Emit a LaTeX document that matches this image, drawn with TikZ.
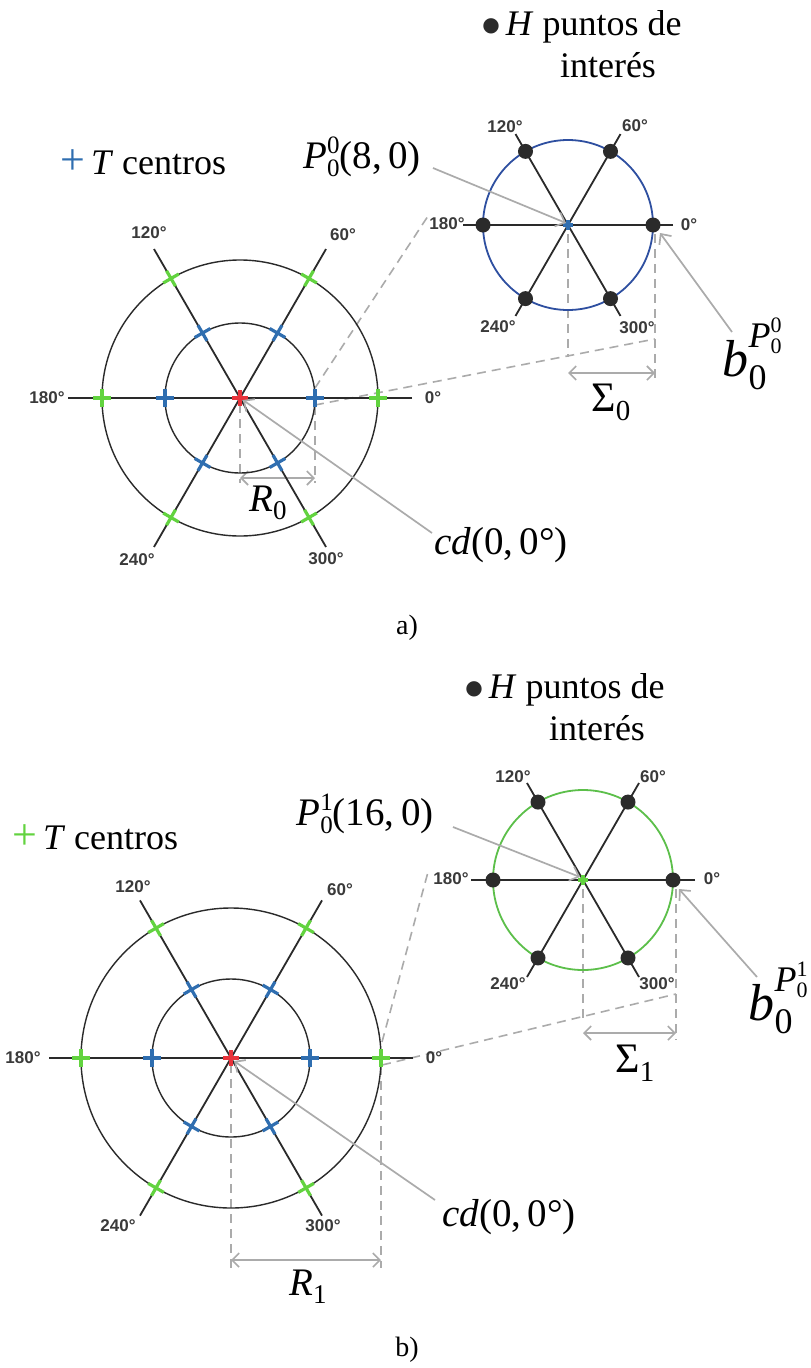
\documentclass[tikz,border=0pt]{standalone}
\usepackage{fontspec}
\setmainfont{Liberation Serif}
\newfontfamily\degfont{Liberation Sans}
\newfontfamily\symfont{DejaVu Sans}
\usetikzlibrary{arrows.meta}
\definecolor{cblue}{HTML}{2F6EB0}
\definecolor{cgreen}{HTML}{62D33F}
\definecolor{cred}{HTML}{E8333A}
\definecolor{cgray}{HTML}{ABABAB}
\definecolor{cline}{HTML}{2A2A2A}
\definecolor{circblue}{HTML}{2E4FA0}
\definecolor{circgreen}{HTML}{5CBF4A}
\definecolor{lblgray}{HTML}{3A3A3A}
\definecolor{dotc}{HTML}{2B2B2B}
\tikzset{
  spoke/.style={draw=cline, line width=1.8pt},
  ring/.style={draw=cline, line width=1.4pt},
  dashln/.style={draw=cgray, line width=1.6pt, dash pattern=on 9pt off 6pt},
  ptr/.style={draw=cgray, line width=1.7pt, -{Straight Barb[length=8pt,width=15pt]}},
  dimarr/.style={draw=cgray, line width=1.6pt, {Straight Barb[length=7pt,width=14pt]}-{Straight Barb[length=7pt,width=14pt]}},
  deg/.style={font=\degfont\bfseries\fontsize{17}{17}\selectfont, text=lblgray, inner sep=0pt},
  lg/.style={font=\fontsize{36}{40}\selectfont, inner sep=0pt},
  mth/.style={font=\fontsize{39}{43}\selectfont, inner sep=0pt},
  bigm/.style={font=\fontsize{52}{56}\selectfont, inner sep=0pt},
  panel/.style={font=\fontsize{28}{30}\selectfont, inner sep=0pt},
  dotm/.style={fill=dotc},
}
\newcommand\cruz[4]{\draw[#3, line width=3.2pt, shift={(#1)}, rotate=#2] (-#4,0) -- (#4,0) (0,-#4) -- (0,#4);}
% stacked sup/sub: size, distance between baselines, sup, sub
\newcommand\Stk[4]{{\fontsize{#1}{#2}\selectfont\begin{tabular}[b]{@{}l@{}}#3\\#4\end{tabular}}}
\newcommand\Sub[3]{\raisebox{-#2}{\fontsize{#1}{#1}\selectfont #3}}
\newcommand\bLabel[1]{\textit{b}\raisebox{-13pt}{\Stk{36}{42pt}{\textit{P}\raisebox{-6pt}{\Stk{22}{21pt}{#1}{0}}}{0}}}
\newcommand\bul{\raisebox{4pt}{\color{dotc}\symfont\fontsize{20}{20}\selectfont ●}}
\newcommand\plusm[1]{{\color{#1}\fontsize{44}{44}\selectfont +}}
\begin{document}
\begin{tikzpicture}[x=1pt,y=-1pt]
\useasboundingbox (0,0) rectangle (811,1368);
\fill[white] (0,0) rectangle (811,1368);

%================ PANEL A =================
\coordinate (cA) at (240,398);
\foreach \a in {0,60,...,300}{
  \path (cA) ++(-\a:172) coordinate (cA-e\a);
  \path (cA) ++(-\a:75) coordinate (cA-i\a);
  \path (cA) ++(-\a:138) coordinate (cA-o\a);
}
\coordinate (dA1) at (315,388); \coordinate (dA2) at (430,213);
\coordinate (dA3) at (315,405); \coordinate (dA4) at (655,339);
\draw[dashln] (dA1) -- (dA2);
\draw[dashln] (dA3) -- (dA4);
\coordinate (vA1) at (240,404); \coordinate (vA2) at (240,483);
\coordinate (vA3) at (315,406); \coordinate (vA4) at (315,483);
\draw[dashln] (vA1) -- (vA2);
\draw[dashln] (vA3) -- (vA4);
\coordinate (rA1) at (240,478); \coordinate (rA2) at (315,478);
\draw[dimarr] (rA1) -- (rA2);

\draw[ring] (cA) circle[radius=75pt];
\draw[ring] (cA) circle[radius=138pt];
\foreach \a/\b in {0/180,60/240,120/300} \draw[spoke] (cA-e\a) -- (cA-e\b);
\foreach \a in {0,60,...,300}{
  \cruz{cA-i\a}{\a}{cblue}{9}
  \cruz{cA-o\a}{\a}{cgreen}{9}
}
\cruz{cA}{0}{cred}{8}

\node[deg] (lA0) at (433,398) {0°};
\node[deg] (lA60) at (343,235) {60°};
\node[deg] (lA120) at (149,233) {120°};
\node[deg] (lA180) at (47,398) {180°};
\node[deg] (lA240) at (137,560) {240°};
\node[deg] (lA300) at (326,559) {300°};

\coordinate (sA) at (568,225);
\foreach \a in {0,60,...,300}{
  \path (sA) ++(-\a:105) coordinate (sA-e\a);
  \path (sA) ++(-\a:85) coordinate (sA-p\a);
}
\coordinate (vA5) at (568,234); \coordinate (vA6) at (568,357);
\coordinate (vA7) at (655,234); \coordinate (vA8) at (655,380);
\draw[dashln] (vA5) -- (vA6);
\draw[dashln] (vA7) -- (vA8);
\coordinate (sgA1) at (568,373); \coordinate (sgA2) at (655,373);
\draw[dimarr] (sgA1) -- (sgA2);
\draw[draw=circblue, line width=1.8pt] (sA) circle[radius=85pt];
\foreach \a/\b in {0/180,60/240,120/300} \draw[spoke] (sA-e\a) -- (sA-e\b);
\foreach \a in {0,60,...,300} \fill[dotm] (sA-p\a) circle[radius=7.5pt];
\cruz{sA}{0}{cblue}{5}

\node[deg] (mA0) at (689,225) {0°};
\node[deg] (mA60) at (635,126) {60°};
\node[deg] (mA120) at (505,127) {120°};
\node[deg] (mA180) at (447,224) {180°};
\node[deg] (mA240) at (498,327) {240°};
\node[deg] (mA300) at (637,328) {300°};

\node[lg, anchor=west] (legA) at (60,162) {\plusm{cblue}\,\textit{T} centros};
\node[lg] (hA1) at (582,27) {\bul\,\textit{H} puntos de};
\node[lg] (hA2) at (608,65) {interés};
\node[mth] (pA) at (362,160) {\textit{P}\raisebox{-8pt}{\Stk{25}{23pt}{0}{0}}(8,\,0)};
\node[mth] (cdA) at (501,545) {\textit{cd}(0,\,0°)};
\node[bigm] (bA) at (752,360) {\bLabel{0}};
\node[mth] (RA) at (268,503) {\textit{R}\Sub{27}{8pt}{0}};
\node[mth, font=\fontsize{42}{46}\selectfont] (SA) at (611,402) {Σ\Sub{29}{9pt}{0}};
\node[panel] (pa) at (407,628) {a)};

\coordinate (pAs) at (433,168);
\coordinate (cdAs) at (432,533);
\coordinate (bAs) at (732,332);
\coordinate (bAt) at (660,233);
\coordinate (cAt) at (243,400);
\coordinate (sAt) at (566,223);
\draw[ptr] (pAs) -- (sAt);
\draw[ptr] (cdAs) -- (cAt);
\draw[ptr] (bAs) -- (bAt);

%================ PANEL B =================
\coordinate (cB) at (231,1058);
\foreach \a in {0,60,...,300}{
  \path (cB) ++(-\a:182) coordinate (cB-e\a);
  \path (cB) ++(-\a:79) coordinate (cB-i\a);
  \path (cB) ++(-\a:150) coordinate (cB-o\a);
}
\coordinate (dB1) at (382,1042); \coordinate (dB2) at (428,872);
\coordinate (dB3) at (382,1065); \coordinate (dB4) at (676,994);
\draw[dashln] (dB1) -- (dB2);
\draw[dashln] (dB3) -- (dB4);
\coordinate (vB1) at (231,1064); \coordinate (vB2) at (231,1268);
\coordinate (vB3) at (381,1066); \coordinate (vB4) at (381,1268);
\draw[dashln] (vB1) -- (vB2);
\draw[dashln] (vB3) -- (vB4);
\coordinate (rB1) at (231,1260); \coordinate (rB2) at (381,1260);
\draw[dimarr] (rB1) -- (rB2);

\draw[ring] (cB) circle[radius=79pt];
\draw[ring] (cB) circle[radius=150pt];
\foreach \a/\b in {0/180,60/240,120/300} \draw[spoke] (cB-e\a) -- (cB-e\b);
\foreach \a in {0,60,...,300}{
  \cruz{cB-i\a}{\a}{cblue}{9}
  \cruz{cB-o\a}{\a}{cgreen}{9}
}
\cruz{cB}{0}{cred}{8}

\node[deg] (lB0) at (434,1058) {0°};
\node[deg] (lB60) at (340,890) {60°};
\node[deg] (lB120) at (133,887) {120°};
\node[deg] (lB180) at (23,1058) {180°};
\node[deg] (lB240) at (118,1226) {240°};
\node[deg] (lB300) at (323,1226) {300°};

\coordinate (sB) at (583,880);
\foreach \a in {0,60,...,300}{
  \path (sB) ++(-\a:112) coordinate (sB-e\a);
  \path (sB) ++(-\a:90) coordinate (sB-p\a);
}
\coordinate (vB5) at (583,889); \coordinate (vB6) at (583,1018);
\coordinate (vB7) at (676,889); \coordinate (vB8) at (676,1040);
\draw[dashln] (vB5) -- (vB6);
\draw[dashln] (vB7) -- (vB8);
\coordinate (sgB1) at (583,1033); \coordinate (sgB2) at (676,1033);
\draw[dimarr] (sgB1) -- (sgB2);
\draw[draw=circgreen, line width=1.8pt] (sB) circle[radius=90pt];
\foreach \a/\b in {0/180,60/240,120/300} \draw[spoke] (sB-e\a) -- (sB-e\b);
\foreach \a in {0,60,...,300} \fill[dotm] (sB-p\a) circle[radius=7.5pt];
\cruz{sB}{0}{cgreen}{5}

\node[deg] (mB0) at (712,879) {0°};
\node[deg] (mB60) at (653,777) {60°};
\node[deg] (mB120) at (513,777) {120°};
\node[deg] (mB180) at (451,879) {180°};
\node[deg] (mB240) at (508,984) {240°};
\node[deg] (mB300) at (657,984) {300°};

\node[lg, anchor=west] (legB) at (12,837) {\plusm{cgreen}\,\textit{T} centros};
\node[lg] (hB1) at (565,690) {\bul\,\textit{H} puntos de};
\node[lg] (hB2) at (597,728) {interés};
\node[mth] (pB) at (365,817) {\textit{P}\raisebox{-8pt}{\Stk{25}{23pt}{1}{0}}(16,\,0)};
\node[mth] (cdB) at (509,1217) {\textit{cd}(0,\,0°)};
\node[bigm] (bB) at (778,1004) {\bLabel{1}};
\node[mth] (RB) at (308,1287) {\textit{R}\Sub{27}{8pt}{1}};
\node[mth, font=\fontsize{42}{46}\selectfont] (SB) at (635,1063) {Σ\Sub{29}{9pt}{1}};
\node[panel] (pb) at (407,1350) {b)};

\coordinate (pBs) at (453,827);
\coordinate (cdBs) at (435,1200);
\coordinate (bBs) at (757,977);
\coordinate (bBt) at (679,889);
\coordinate (cBt) at (234,1061);
\coordinate (sBt) at (580,877);
\draw[ptr] (pBs) -- (sBt);
\draw[ptr] (cdBs) -- (cBt);
\draw[ptr] (bBs) -- (bBt);
\end{tikzpicture}
\end{document}
